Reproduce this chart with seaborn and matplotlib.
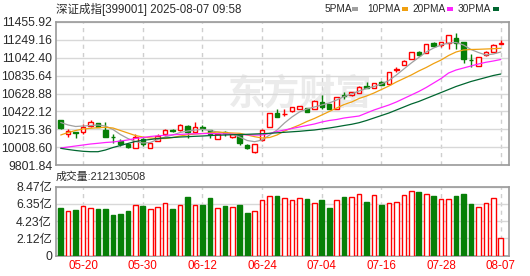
import matplotlib
matplotlib.use("Agg")
import matplotlib.pyplot as plt
import seaborn as sns
import numpy as np
import pandas as pd
from matplotlib.patches import Rectangle

# ---------------- data ----------------
dates = ["05-15", "05-16", "05-19", "05-20", "05-21", "05-22", "05-23", "05-26", "05-27", "05-28",
         "05-29", "05-30", "06-03", "06-04", "06-05", "06-06", "06-09", "06-10", "06-11", "06-12",
         "06-13", "06-16", "06-17", "06-18", "06-19", "06-20", "06-23", "06-24", "06-25", "06-26",
         "06-27", "06-30", "07-01", "07-02", "07-03", "07-04", "07-07", "07-08", "07-09", "07-10",
         "07-11", "07-14", "07-15", "07-16", "07-17", "07-18", "07-21", "07-22", "07-23", "07-24",
         "07-25", "07-28", "07-29", "07-30", "07-31", "08-01", "08-04", "08-05", "08-06", "08-07"]

opens = [10322, 10157, 10178, 10189, 10253, 10282, 10207, 10129, 10074, 10050,
         10004, 10097, 10004, 10083, 10155, 10201, 10207, 10253, 10187, 10236,
         10201, 10099, 10180, 10120, 10160, 10033, 9949, 10091, 10247, 10400,
         10386, 10421, 10450, 10458, 10450, 10534, 10502, 10450, 10606, 10606,
         10631, 10719, 10689, 10765, 10735, 10904, 10959, 11028, 11112, 11094,
         11216, 11190, 11216, 11267, 11228, 11020, 10950, 11074, 11112, 11207]
closes = [10226, 10192, 10170, 10247, 10302, 10241, 10131, 10122, 10039, 10010,
          10126, 10050, 10053, 10143, 10207, 10195, 10259, 10187, 10245, 10230,
          10155, 10160, 10172, 10160, 10056, 10004, 10041, 10212, 10398, 10361,
          10392, 10475, 10479, 10418, 10546, 10473, 10450, 10592, 10600, 10650,
          10708, 10696, 10747, 10727, 10874, 10915, 11008, 11105, 11074, 11198,
          11178, 11228, 11306, 11216, 11024, 11013, 11048, 11112, 11190, 11213]
highs = [10328, 10215, 10189, 10273, 10328, 10293, 10305, 10155, 10097, 10056,
         10155, 10114, 10068, 10166, 10218, 10215, 10276, 10265, 10302, 10265,
         10212, 10166, 10195, 10166, 10166, 10050, 10045, 10224, 10403, 10446,
         10455, 10477, 10479, 10461, 10548, 10612, 10507, 10594, 10646, 10652,
         10710, 10762, 10750, 10768, 10877, 10939, 11011, 11109, 11120, 11201,
         11225, 11230, 11311, 11325, 11230, 11082, 11051, 11115, 11196, 11248]
lows = [10224, 10129, 10114, 10160, 10247, 10236, 10126, 10056, 10016, 9993,
        9999, 10022, 9999, 10080, 10137, 10184, 10195, 10111, 10184, 10199,
        10114, 10097, 10137, 10114, 10033, 9987, 9946, 10085, 10241, 10357,
        10363, 10418, 10447, 10415, 10446, 10450, 10444, 10446, 10565, 10600,
        10629, 10693, 10687, 10724, 10733, 10881, 10955, 11024, 11068, 11092,
        11172, 11161, 11140, 11140, 10978, 10939, 10947, 11063, 11109, 11207]

# volume in 亿 (1e8 shares)
volumes = [5.79, 5.46, 5.59, 6.08, 5.79, 5.71, 5.71, 4.97, 5.09, 5.46,
           6.16, 6.08, 5.67, 5.92, 6.41, 5.71, 6.16, 7.18, 6.16, 6.20,
           7.06, 5.79, 6.08, 5.92, 6.20, 5.25, 5.46, 6.78, 7.27, 7.30,
           7.02, 6.81, 7.02, 6.94, 6.41, 6.81, 5.83, 6.78, 7.18, 7.14,
           7.51, 6.57, 7.39, 6.20, 6.41, 6.53, 7.39, 7.88, 7.76, 7.51,
           7.30, 6.94, 6.94, 7.30, 7.51, 6.32, 5.92, 6.41, 7.02, 2.12]

ma5 = [10293.5, 10264.5, 10247.2, 10253.0, 10258.8, 10264.5, 10253.0, 10212.5, 10154.7, 10108.4,
       10073.7, 10056.3, 10062.1, 10096.8, 10125.7, 10148.9, 10177.8, 10195.1, 10206.7, 10214.8,
       10200.9, 10183.6, 10172.0, 10160.4, 10125.7, 10085.3, 10071.4, 10091.0, 10148.9, 10206.7,
       10287.7, 10357.1, 10414.9, 10449.6, 10472.7, 10495.9, 10519.0, 10553.7, 10594.2, 10623.1,
       10657.8, 10686.7, 10709.9, 10738.8, 10779.3, 10842.9, 10912.3, 10981.7, 11045.3, 11108.9,
       11155.2, 11189.9, 11213.0, 11218.8, 11189.9, 11137.9, 11103.1, 11074.2, 11085.8, 11108.9]
ma10 = [10148.9, 10177.8, 10200.9, 10218.3, 10226.3, 10233.3, 10237.9, 10229.8, 10200.9, 10172.0,
        10143.1, 10125.7, 10114.2, 10108.4, 10108.4, 10119.9, 10137.3, 10151.2, 10160.4, 10166.2,
        10172.0, 10183.6, 10177.8, 10172.0, 10168.5, 10148.9, 10129.2, 10114.2, 10119.9, 10148.9,
        10195.1, 10229.8, 10264.5, 10305.0, 10339.7, 10380.2, 10420.7, 10461.2, 10501.7, 10530.6,
        10571.1, 10600.0, 10634.7, 10675.1, 10715.6, 10761.9, 10802.4, 10842.9, 10889.1, 10929.6,
        10975.9, 11016.4, 11068.4, 11108.9, 11132.1, 11137.9, 11140.2, 11143.6, 11147.1, 11151.8]
ma20 = [9998.5, 10010.1, 10021.6, 10033.2, 10044.8, 10052.9, 10062.1, 10067.9, 10079.5, 10091.0,
        10108.4, 10119.9, 10131.5, 10139.6, 10145.4, 10151.2, 10155.8, 10160.4, 10162.7, 10165.1,
        10166.2, 10163.9, 10160.4, 10157.0, 10153.5, 10151.2, 10148.9, 10148.9, 10166.2, 10189.4,
        10206.7, 10224.1, 10241.4, 10258.8, 10276.1, 10299.2, 10316.6, 10328.2, 10345.5, 10357.1,
        10368.6, 10403.3, 10438.0, 10467.0, 10495.9, 10530.6, 10571.1, 10611.5, 10652.0, 10698.3,
        10750.3, 10802.4, 10866.0, 10900.7, 10923.9, 10947.0, 10970.1, 10990.0, 11004.8, 11022.1]
ma30 = [9995.0, 9981.2, 9969.6, 9960.3, 9955.7, 9955.7, 9975.4, 10004.3, 10027.4, 10050.6,
        10073.7, 10087.6, 10096.8, 10108.4, 10114.2, 10119.9, 10125.7, 10129.2, 10133.8, 10137.3,
        10141.9, 10146.6, 10148.9, 10152.3, 10154.7, 10157.0, 10160.4, 10163.9, 10168.5, 10174.3,
        10180.1, 10185.9, 10191.6, 10199.7, 10206.7, 10218.3, 10229.8, 10243.7, 10258.8, 10272.7,
        10291.2, 10316.6, 10345.5, 10374.4, 10403.3, 10438.0, 10472.7, 10507.4, 10536.4, 10571.1,
        10605.7, 10640.4, 10675.1, 10709.9, 10738.8, 10767.7, 10790.8, 10813.9, 10837.1, 10854.4]

tick_dates = ["05-20", "05-30", "06-12", "06-24", "07-04", "07-16", "07-28", "08-07"]
price_ticks = [9801.84, 10008.60, 10215.36, 10422.12, 10628.88, 10835.64, 11042.40, 11249.16, 11455.92]
price_tick_labels = ["9801.84", "10008.60", "10215.36", "10422.12", "10628.88",
                     "10835.64", "11042.40", "11249.16", "11455.92"]
vol_ticks = [0, 2.12, 4.23, 6.35, 8.47]
vol_tick_labels = ["0", "2.12亿", "4.23亿", "6.35亿", "8.47亿"]
title = "深证成指[399001] 2025-08-07 09:58"
vol_title = "成交量:212130508"
ma_names = ["5PMA", "10PMA", "20PMA", "30PMA"]
watermark = "东方财富"

# ---------------- style ----------------
sns.set_style("white")
plt.rcParams['font.family'] = ['Liberation Sans', 'Noto Sans CJK SC', 'DejaVu Sans']

RED = "#ff0000"
GREEN = "#077f07"
MA_COLORS = ["#a0a0a0", "#f0a010", "#ff22ff", "#006630"]
FRAME = "#9a9a9a"
GRID = "#d8d8d8"
TXT = "#2a2a2a"

W, H = 530, 276
fig = plt.figure(figsize=(W / 100, H / 100), dpi=100)
fig.patch.set_facecolor("white")

def fx(px):
    return px / W

def fy(py):
    return 1 - py / H

ax = fig.add_axes([fx(55.5), fy(165), fx(509) - fx(55.5), fy(22) - fy(165)])
ax2 = fig.add_axes([fx(55.5), fy(255.5), fx(509) - fx(55.5), fy(186.5) - fy(255.5)])

n = len(dates)
x = np.arange(n)
o = np.array(opens, float)
c = np.array(closes, float)
hi = np.array(highs, float)
lo = np.array(lows, float)
vol = np.array(volumes, float)
up = c >= o
colors = np.where(up, RED, GREEN)

tick_pos = [dates.index(d) for d in tick_dates]

# ---------------- price pane ----------------
ax.text(0.54, 0.50, watermark, transform=ax.transAxes, ha="center", va="center",
        fontsize=26, color="#ebebeb", fontweight="bold",
        family=["Noto Sans CJK SC"], zorder=0.5)

ax.vlines(x, lo, hi, colors=colors, linewidth=1.0, zorder=2)
body_bot = np.minimum(o, c)
body_h = np.maximum(np.abs(c - o), 1.0)
ax.bar(x[up], body_h[up], bottom=body_bot[up], width=0.6, facecolor="white",
       edgecolor=RED, linewidth=1.0, zorder=3)
ax.bar(x[~up], body_h[~up], bottom=body_bot[~up], width=0.6, facecolor=GREEN,
       edgecolor=GREEN, linewidth=1.0, zorder=3)

ma_df = pd.DataFrame({"idx": np.tile(x, 4),
                      "value": np.concatenate([ma5, ma10, ma20, ma30]),
                      "ma": np.repeat(ma_names, n)})
sns.lineplot(data=ma_df, x="idx", y="value", hue="ma", hue_order=ma_names,
             palette=MA_COLORS, linewidth=0.9, legend=False, ax=ax, zorder=4)

ax.set_xlim(-0.7, 60.1)
ax.set_ylim(price_ticks[0], price_ticks[-1])
ax.set_yticks(price_ticks)
ax.set_yticklabels(price_tick_labels)
ax.set_xticks(tick_pos)
ax.set_xticklabels([])
ax.set_xlabel("")
ax.set_ylabel("")
ax.grid(axis="y", color=GRID, linewidth=1.0, linestyle="-", zorder=0)
ax.grid(axis="x", color="#cfcfcf", linewidth=1.0, linestyle=(0, (3, 3)), zorder=0)
ax.set_axisbelow(True)
ax.tick_params(axis="both", length=0, pad=2.5, labelsize=8.8, labelcolor=TXT)

# ---------------- volume pane ----------------
ax2.bar(x[up], vol[up], width=0.62, facecolor="white", edgecolor=RED, linewidth=1.0, zorder=3)
ax2.bar(x[~up], vol[~up], width=0.62, facecolor=GREEN, edgecolor=GREEN, linewidth=1.0, zorder=3)
ax2.set_xlim(-0.7, 60.1)
ax2.set_ylim(0, vol_ticks[-1])
ax2.set_yticks(vol_ticks)
ax2.set_yticklabels(vol_tick_labels)
ax2.set_xticks(tick_pos)
ax2.set_xticklabels(tick_dates)
ax2.grid(axis="y", color=GRID, linewidth=1.0, linestyle="-", zorder=0)
ax2.grid(axis="x", color="#cfcfcf", linewidth=1.0, linestyle=(0, (3, 3)), zorder=0)
ax2.set_axisbelow(True)
ax2.tick_params(axis="y", length=0, pad=2.5, labelsize=8.8, labelcolor=TXT)
ax2.tick_params(axis="x", length=0, pad=3.5, labelsize=8.4, labelcolor=RED)

for a in (ax, ax2):
    for s in a.spines.values():
        s.set_visible(True)
        s.set_color(FRAME)
        s.set_linewidth(1.2)

# ---------------- texts ----------------
fig.text(fx(56), fy(9), title, fontsize=8.3, color=TXT, va="center", ha="left")
fig.text(fx(56), fy(177), vol_title, fontsize=7.8, color=TXT, va="center", ha="left")

legend_x = [325, 367, 412, 458]
dash_x = [352, 402, 447, 493]
for name, lx, dx, col in zip(ma_names, legend_x, dash_x, MA_COLORS):
    fig.text(fx(lx), fy(9), name, fontsize=7.3, color=TXT, va="center", ha="left")
    fig.patches.append(Rectangle((fx(dx), fy(10.5)), fx(6), 3 / H, transform=fig.transFigure,
                                 facecolor=col, edgecolor="none"))

fig.savefig("out.png", dpi=100, facecolor="white")
